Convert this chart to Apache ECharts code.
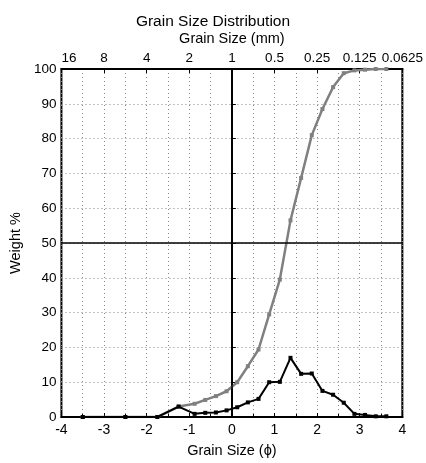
<!DOCTYPE html>
<html>
<head>
<meta charset="utf-8">
<script src="https://cdn.jsdelivr.net/npm/echarts@6/dist/echarts.min.js"></script>
<style>
html,body{margin:0;padding:0;background:#fff;}
#c{width:426px;height:463px;}
</style>
</head>
<body>
<div id="c"></div>
<script>
var phi = [-3.5, -2.5, -1.75, -1.25, -0.875, -0.625, -0.375, -0.125, 0.125, 0.375, 0.625, 0.875, 1.125, 1.375, 1.625, 1.875, 2.125, 2.375, 2.625, 2.875, 3.125, 3.375, 3.625];
var weight = [0, 0, 0, 3.0, 0.9, 1.2, 1.3, 1.9, 2.8, 4.2, 5.2, 10.0, 10.1, 17.0, 12.4, 12.5, 7.5, 6.4, 4.1, 0.9, 0.6, 0.2, 0.2];
var cumulative = [0, 0, 0, 3.0, 3.8, 4.9, 6.0, 7.4, 10.0, 14.6, 19.4, 29.5, 39.5, 56.5, 68.7, 81.0, 88.5, 94.8, 98.8, 99.6, 99.8, 100, 100];
var phiTicks = [-4, -3, -2, -1, 0, 1, 2, 3, 4];
var mmLabels = ['16', '8', '4', '2', '1', '0.5', '0.25', '0.125', '0.0625'];
var yTicks = [0, 10, 20, 30, 40, 50, 60, 70, 80, 90, 100];

var FONT = "'Liberation Sans', Arial, sans-serif";
function zip(a, b) { return a.map(function (v, i) { return [v, b[i]]; }); }
var dotted = { show: true, lineStyle: { color: '#888', width: 1, type: [1, 3] } };

var chart = echarts.init(document.getElementById('c'), null, { renderer: 'canvas' });
chart.setOption({
  animation: false,
  backgroundColor: '#fff',
  textStyle: { fontFamily: FONT },
  title: {
    text: 'Grain Size Distribution',
    left: 'center', top: 9,
    textStyle: { fontFamily: FONT, fontSize: 15.5, fontWeight: 'normal', color: '#000' }
  },
  grid: { left: 57, right: 22, top: 69, bottom: 45, show: true, borderColor: '#000', borderWidth: 2, backgroundColor: 'transparent' },
  xAxis: [{
    type: 'value', position: 'bottom', min: phiTicks[0], max: phiTicks[phiTicks.length - 1], interval: 1,
    name: 'Grain Size (\u03d5)', nameLocation: 'middle', nameGap: 26,
    nameTextStyle: { fontFamily: FONT, fontSize: 14.5, color: '#000' },
    axisLine: { show: true, lineStyle: { color: '#000', width: 2 } },
    axisTick: { show: true, inside: true, length: 4, lineStyle: { color: '#000' } },
    minorTick: { show: true, splitNumber: 2, length: 3, lineStyle: { color: '#000' } },
    axisLabel: { fontFamily: FONT, fontSize: 14, color: '#000', margin: 6 },
    splitLine: dotted,
    minorSplitLine: dotted
  }, {
    type: 'value', position: 'top', min: phiTicks[0], max: phiTicks[phiTicks.length - 1], interval: 1,
    name: 'Grain Size (mm)', nameLocation: 'middle', nameGap: 21,
    nameTextStyle: { fontFamily: FONT, fontSize: 14.5, color: '#000' },
    axisLine: { show: true, lineStyle: { color: '#000', width: 2 } },
    axisTick: { show: true, inside: true, length: 4, lineStyle: { color: '#000' } },
    axisLabel: {
      fontFamily: FONT, fontSize: 13.5, color: '#000', margin: 4,
      alignMinLabel: 'left',
      formatter: function (v) { var i = phiTicks.indexOf(Math.round(v)); return i >= 0 ? mmLabels[i] : ''; }
    },
    splitLine: { show: false }
  }],
  yAxis: [{
    type: 'value', min: yTicks[0], max: yTicks[yTicks.length - 1], interval: 10,
    name: 'Weight %', nameLocation: 'middle', nameGap: 29, nameRotate: 90,
    nameTextStyle: { fontFamily: FONT, fontSize: 14.5, color: '#000' },
    axisLine: { show: true, lineStyle: { color: '#000', width: 2 } },
    axisTick: { show: true, inside: true, length: 4, lineStyle: { color: '#000' } },
    axisLabel: { fontFamily: FONT, fontSize: 13.5, color: '#000', margin: 5 },
    splitLine: dotted
  }],
  series: [{
    name: 'Cumulative', type: 'line', data: zip(phi, cumulative),
    symbol: 'rect', symbolSize: 4, showSymbol: true,
    lineStyle: { color: '#808080', width: 2.5 },
    itemStyle: { color: '#808080' },
    z: 3
  }, {
    name: 'Weight', type: 'line', data: zip(phi, weight),
    symbol: 'rect', symbolSize: 4, showSymbol: true,
    lineStyle: { color: '#000', width: 2 },
    itemStyle: { color: '#000' },
    z: 4,
    markLine: {
      silent: true, symbol: 'none', label: { show: false },
      lineStyle: { color: '#000', width: 1.5, type: 'solid' },
      data: [{ xAxis: 0 }, { yAxis: 50 }]
    }
  }]
});
</script>
</body>
</html>
